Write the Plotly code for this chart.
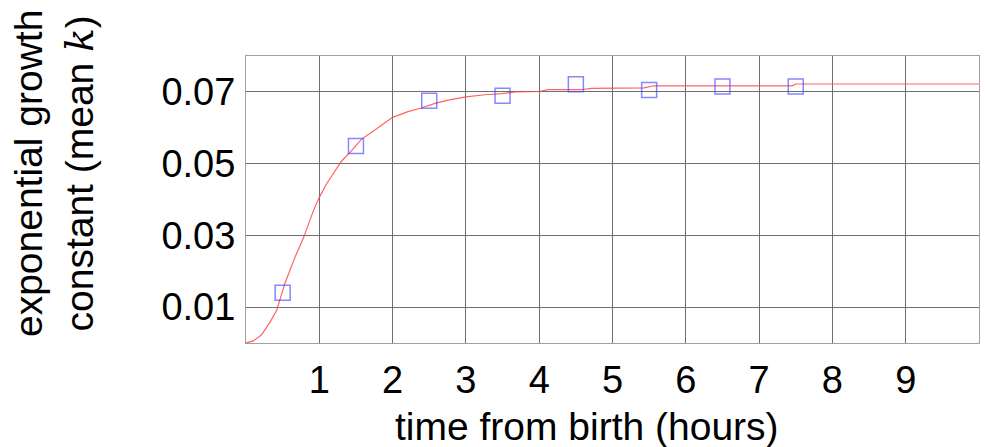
import plotly.graph_objects as go

# Mean exponential growth constant per one-hour bin (bin centres)
bin_hours = [0.5, 1.5, 2.5, 3.5, 4.5, 5.5, 6.5, 7.5]
bin_mean_k = [0.0140, 0.0549, 0.0675, 0.0689, 0.0721, 0.0705, 0.0715, 0.0715]

# Smoothed running curve of k versus time from birth
curve_hours = [0.0, 0.10, 0.21, 0.33, 0.42, 0.53, 0.67, 0.78, 0.92, 1.00, 1.10,
               1.30, 1.44, 1.58, 1.71, 1.85, 2.00, 2.21, 2.39, 2.58, 2.76, 3.00,
               3.26, 3.49, 3.67, 4.00, 4.12, 4.57, 4.71, 5.43, 5.57, 7.45, 7.50,
               10.0]
curve_k = [0.0, 0.0006, 0.0022, 0.0059, 0.0092, 0.0166, 0.0240, 0.0291, 0.0369,
           0.0406, 0.0444, 0.0506, 0.0536, 0.0569, 0.0587, 0.0607, 0.0629,
           0.0645, 0.0655, 0.0668, 0.0677, 0.0686, 0.0692, 0.0695, 0.0700,
           0.0701, 0.0706, 0.0706, 0.0710, 0.0711, 0.0717, 0.0717, 0.0722,
           0.0722]

x_ticks = [1, 2, 3, 4, 5, 6, 7, 8, 9]
y_ticks = [0.01, 0.03, 0.05, 0.07]
y_tick_text = ["0.01", "0.03", "0.05", "0.07"]

FONT = "Liberation Sans, Arial, sans-serif"

fig = go.Figure()
fig.add_trace(go.Scatter(
    x=curve_hours, y=curve_k, mode="lines",
    line=dict(color="rgba(255,70,70,0.85)", width=1.2),
    showlegend=False, hoverinfo="skip"))
fig.add_trace(go.Scatter(
    x=bin_hours, y=bin_mean_k, mode="markers",
    marker=dict(symbol="square-open", size=15,
                color="rgba(70,70,255,0.65)", line=dict(width=1.5)),
    showlegend=False))

axis_common = dict(
    showgrid=True, gridcolor="#6e6e6e", gridwidth=1,
    zeroline=False, showline=True, linecolor="#a0a0a0", linewidth=1,
    mirror=True, ticks="", tickfont=dict(family=FONT, size=38, color="#000"),
)

fig.update_xaxes(range=[0, 10], tickvals=x_ticks, ticklabelstandoff=3,
                 **axis_common)
fig.update_yaxes(range=[0, 0.08], tickvals=y_ticks, ticktext=y_tick_text,
                 ticklabelstandoff=2, **axis_common)

fig.add_annotation(
    text="time from birth (hours)", xref="paper", yref="paper",
    x=0.465, y=-0.29, xanchor="center", yanchor="middle", showarrow=False,
    font=dict(family=FONT, size=39, color="#000"))
fig.add_annotation(
    text=("exponential growth<br>constant (mean "
          "<span style=\"font-family:'DejaVu Serif';font-style:italic\">k</span>)"),
    xref="paper", yref="paper", x=-0.262, y=0.592, textangle=-90,
    xanchor="center", yanchor="middle", showarrow=False,
    font=dict(family=FONT, size=39, color="#000"))

fig.update_layout(
    width=985, height=447,
    margin=dict(l=245.7, r=6.3, t=56, b=104),
    paper_bgcolor="white", plot_bgcolor="white",
)

fig.write_html("out.html")
